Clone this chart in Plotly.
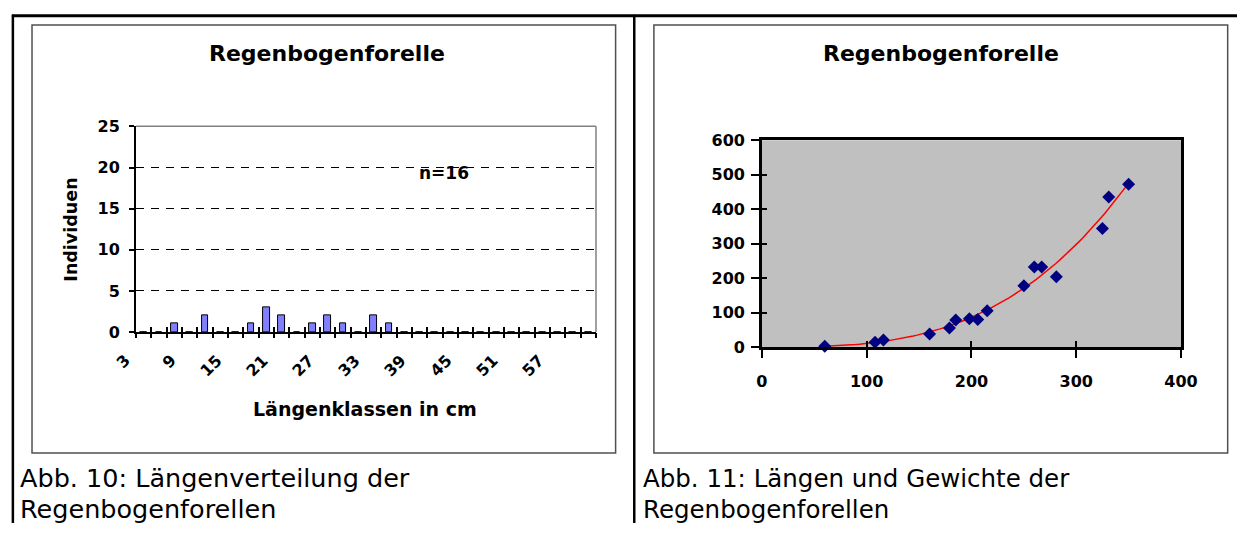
import numpy as np
import plotly.graph_objects as go

# ---------------- data ----------------
# Längenverteilung: 2-cm-Klassen (Klassenmitte in cm) und Anzahl Individuen
klassen = [3, 5, 7, 9, 11, 13, 15, 17, 19, 21, 23, 25, 27, 29, 31,
           33, 35, 37, 39, 41, 43, 45, 47, 49, 51, 53, 55, 57, 59, 61]
anzahl = [0, 0, 1, 0, 2, 0, 0, 1, 3, 2, 0, 1, 2, 1, 0,
          2, 1, 0, 0, 0, 0, 0, 0, 0, 0, 0, 0, 0, 0, 0]
beschriftete_klassen = [3, 9, 15, 21, 27, 33, 39, 45, 51, 57]

# Länge (mm) und Gewicht (g) der einzelnen Regenbogenforellen
laenge = [60, 108, 116, 160, 179, 185, 198, 206, 215, 250, 260, 267, 281, 325, 331, 350]
gewicht = [2, 14, 20, 38, 55, 78, 82, 80, 105, 178, 232, 232, 204, 344, 435, 472]

# Potenz-Trendlinie W = a * L^b (Anpassung im log-log-Raum)
b_exp, ln_a = np.polyfit(np.log(laenge), np.log(gewicht), 1)
trend_x = np.linspace(min(laenge), max(laenge), 80)
trend_y = np.exp(ln_a) * trend_x ** b_exp

# ---------------- page geometry ----------------
W, H = 1254, 533
FONT = "DejaVu Sans"


def fx(px):
    return px / W


def fy(py):
    return 1 - py / H


bold = dict(family=FONT, color="black", weight="bold")

fig = go.Figure()

fig.add_trace(go.Bar(
    x=klassen, y=anzahl, width=0.9,
    marker=dict(color="#8080FF", line=dict(color="black", width=1)),
    xaxis="x", yaxis="y", showlegend=False, hoverinfo="skip",
))
# Hilfsspuren für die Teilstrich-Achsen
for xa, ya in [("x3", "y"), ("x4", "y"), ("x5", "y2"), ("x2", "y3")]:
    fig.add_trace(go.Scatter(x=[None], y=[None], xaxis=xa, yaxis=ya,
                             showlegend=False, hoverinfo="skip"))

fig.add_trace(go.Scatter(
    x=trend_x, y=trend_y, mode="lines",
    line=dict(color="#FF0000", width=1.5),
    xaxis="x2", yaxis="y2", showlegend=False, hoverinfo="skip",
))
fig.add_trace(go.Scatter(
    x=laenge, y=gewicht, mode="markers", cliponaxis=False,
    marker=dict(symbol="diamond", size=10, color="#000080"),
    xaxis="x2", yaxis="y2", showlegend=False,
))

left_dom_x = [fx(132.5), fx(601)]
left_dom_y = [fy(335), fy(121.7)]
right_dom_x = [fx(770), fx(1197)]
right_dom_y = [fy(350.5), fy(136)]

tick_axis = dict(range=[2, 62], tickmode="linear", tick0=2, dtick=2,
                 ticklen=5, tickwidth=1.5, tickcolor="black",
                 showticklabels=False, showgrid=False, zeroline=False,
                 showline=False, overlaying="x", anchor="y")

fig.update_layout(
    width=W, height=H, autosize=False,
    margin=dict(l=0, r=0, t=0, b=0, pad=0),
    paper_bgcolor="white", plot_bgcolor="white",
    bargap=0,
    xaxis=dict(
        domain=left_dom_x, anchor="y", range=[2, 62],
        tickmode="array", tickvals=beschriftete_klassen,
        showticklabels=False, ticks="",
        showline=True, linecolor="black", linewidth=2,
        showgrid=False, zeroline=False,
    ),
    xaxis3=dict(ticks="outside", **tick_axis),
    xaxis4=dict(ticks="inside", **tick_axis),
    yaxis=dict(
        domain=left_dom_y, anchor="x", range=[0, 25], dtick=5,
        ticks="outside", ticklen=5, tickwidth=1.5, tickcolor="black",
        ticklabelstandoff=6,
        tickfont=dict(size=16, **bold),
        showline=True, linecolor="black", linewidth=2,
        showgrid=True, gridcolor="black", gridwidth=1, griddash="8px,7px",
        zeroline=False,
    ),
    xaxis2=dict(
        domain=right_dom_x, anchor="y2", range=[0, 400], dtick=100,
        ticks="outside", ticklen=8, tickwidth=2, tickcolor="black",
        ticklabelstandoff=10,
        tickfont=dict(size=16, **bold),
        showline=True, linecolor="black", linewidth=2.5, mirror=True,
        showgrid=False, zeroline=False,
    ),
    xaxis5=dict(
        overlaying="x2", anchor="y2", range=[0, 400], dtick=100,
        ticks="inside", ticklen=6, tickwidth=2, tickcolor="black",
        showticklabels=False, showgrid=False, zeroline=False, showline=False,
    ),
    yaxis2=dict(
        domain=right_dom_y, anchor="x2", range=[0, 600], dtick=100,
        ticks="outside", ticklen=8, tickwidth=2, tickcolor="black",
        ticklabelstandoff=3,
        tickfont=dict(size=16, **bold),
        showline=True, linecolor="black", linewidth=2.5, mirror=True,
        showgrid=False, zeroline=False,
    ),
    yaxis3=dict(
        overlaying="y2", anchor="x2", range=[0, 600], dtick=100,
        ticks="inside", ticklen=5, tickwidth=2, tickcolor="black",
        showticklabels=False, showgrid=False, zeroline=False, showline=False,
    ),
)

shapes = [
    # Rahmen der Seite
    dict(type="line", xref="paper", yref="paper", x0=fx(6), x1=1, y0=fy(7), y1=fy(7),
         line=dict(color="black", width=3)),
    dict(type="line", xref="paper", yref="paper", x0=fx(7), x1=fx(7), y0=fy(6), y1=0,
         line=dict(color="black", width=2.5)),
    dict(type="line", xref="paper", yref="paper", x0=fx(640), x1=fx(640), y0=fy(6), y1=0,
         line=dict(color="black", width=2.5)),
    # Diagrammrahmen
    dict(type="rect", xref="paper", yref="paper", x0=fx(26.5), x1=fx(621),
         y0=fy(460.5), y1=fy(16.5), line=dict(color="#505050", width=1.5)),
    dict(type="rect", xref="paper", yref="paper", x0=fx(660), x1=fx(1244.5),
         y0=fy(460.5), y1=fy(16.5), line=dict(color="#505050", width=1.5)),
    # Zeichenfläche links: graue obere und rechte Begrenzung
    dict(type="line", xref="x domain", yref="y domain", x0=0, x1=1, y0=1, y1=1,
         line=dict(color="#808080", width=1.5), layer="above"),
    dict(type="line", xref="x domain", yref="y domain", x0=1, x1=1, y0=0, y1=1,
         line=dict(color="#808080", width=1.5), layer="above"),
    # Zeichenfläche rechts: grauer Hintergrund
    dict(type="rect", xref="x2 domain", yref="y2 domain", x0=0, x1=1, y0=0, y1=1,
         fillcolor="#C0C0C0", line=dict(width=0), layer="below"),
]
fig.update_layout(shapes=shapes)

annotations = [
    dict(text="Regenbogenforelle", x=fx(327), y=fy(45.7), font=dict(size=22, **bold)),
    dict(text="Regenbogenforelle", x=fx(952), y=fy(45.7), font=dict(size=22, **bold)),
    dict(text="n=16", x=fx(446), y=fy(170), font=dict(size=17, **bold)),
    dict(text="Individuen", x=fx(66), y=fy(229), textangle=-90, font=dict(size=17.5, **bold)),
    dict(text="Längenklassen in cm", x=fx(366), y=fy(414.5), font=dict(size=19, **bold)),
    dict(text="Abb. 10: Längenverteilung der", x=fx(12), y=fy(486.5), xanchor="left",
         font=dict(family=FONT, size=25.5, color="black")),
    dict(text="Regenbogenforellen", x=fx(12), y=fy(519), xanchor="left",
         font=dict(family=FONT, size=25.5, color="black")),
    dict(text="Abb. 11: Längen und Gewichte der", x=fx(647), y=fy(486.5), xanchor="left",
         font=dict(family=FONT, size=24.5, color="black")),
    dict(text="Regenbogenforellen", x=fx(647), y=fy(519), xanchor="left",
         font=dict(family=FONT, size=24.5, color="black")),
]
for a in annotations:
    a.setdefault("xanchor", "center")
    a.update(xref="paper", yref="paper", yanchor="middle", showarrow=False)

# Schräg gestellte Klassenbeschriftung unter der Längenachse
for k in beschriftete_klassen:
    annotations.append(dict(
        text=str(k), x=k, xref="x", xshift=-7,
        y=fy(352), yref="paper", xanchor="right", yanchor="top",
        textangle=-45, showarrow=False, font=dict(size=16, **bold),
    ))
fig.update_layout(annotations=annotations)

fig.write_html("out.html", config=dict(displayModeBar=False))
